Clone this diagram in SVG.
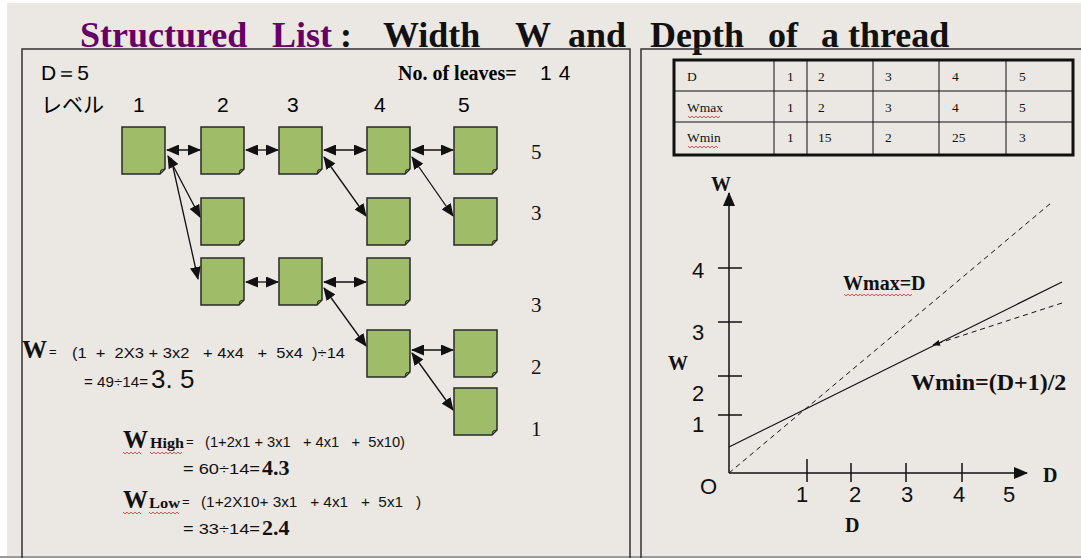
<svg xmlns="http://www.w3.org/2000/svg" xmlns:xlink="http://www.w3.org/1999/xlink" width="1081" height="558" viewBox="0 0 1081 558">
<style>
.serif{font-family:"Liberation Serif","Times New Roman",serif;}
.sans{font-family:"Liberation Sans",Arial,sans-serif;}
.jp{font-family:"Liberation Sans","Noto Sans CJK JP",sans-serif;}
.b{font-weight:bold;}
.doc{fill:#9FBC68;stroke:#2a2a2a;stroke-width:1.5;}
.fold{fill:#7a8f52;stroke:#2a2a2a;stroke-width:1;}
.con{stroke:#111;stroke-width:1.3;fill:none;}
.panel{fill:none;stroke:#333;stroke-width:1.5;}
.grid{stroke:#111;stroke-width:1;}
.tt{font-family:"Liberation Serif","Times New Roman",serif;font-size:13.5px;fill:#111;}
.wav{fill:none;stroke:#e03030;stroke-width:0.8;}
.axis{stroke:#111;stroke-width:1.5;fill:none;}
.dash{stroke:#111;stroke-width:1;stroke-dasharray:5,4;fill:none;}
</style>
<defs>
<marker id="ah" markerWidth="13" markerHeight="11" refX="12" refY="5.5" orient="auto-start-reverse" markerUnits="userSpaceOnUse">
<path d="M0,0 L13,5.5 L0,11 z" fill="#111"/>
</marker>
<marker id="ahs" markerWidth="8" markerHeight="6" refX="7" refY="3" orient="auto" markerUnits="userSpaceOnUse">
<path d="M0,0 L8,3 L0,6 z" fill="#111"/>
</marker>
<marker id="axh" markerWidth="14" markerHeight="12" refX="13" refY="6" orient="auto" markerUnits="userSpaceOnUse">
<path d="M0,0 L14,6 L0,12 z" fill="#111"/>
</marker>
<g id="d">
<path class="doc" d="M0,0 H43 V42 L38,47 H0 Z"/>
<path class="fold" d="M43,42 L38,47 L39,43 Z"/>
</g>
</defs>
<rect width="1081" height="558" fill="#EBE7E3"/>
<rect width="7" height="558" fill="#ffffff"/>
<rect width="1081" height="3" fill="#ffffff"/>
<line x1="0" y1="557" x2="1081" y2="557" stroke="#9a9a9a" stroke-width="2"/>

<!-- title -->
<g id="title" class="serif b" font-size="36">
<text x="80" y="47" fill="#660066">Structured</text>
<text x="272" y="47" fill="#660066">List</text>
<text x="340" y="47" fill="#111">:</text>
<text x="383" y="47" fill="#111">Width</text>
<text x="515" y="47" fill="#111">W</text>
<text x="568" y="47" fill="#111">and</text>
<text x="650" y="47" fill="#111">Depth</text>
<text x="768" y="47" fill="#111">of</text>
<text x="821" y="47" fill="#111">a thread</text>
</g>

<!-- panels -->
<path class="panel" d="M22,558 V49 H630 V558"/>
<path class="panel" d="M641,558 V49 H1081"/>

<!-- left panel header -->
<g id="header">
<text class="sans" x="41" y="80" font-size="21">D＝5</text>
<text class="serif b" x="398" y="80" font-size="20">No. of leaves=</text>
<text class="sans" x="540" y="80" font-size="21" letter-spacing="7">14</text>
<text class="jp" x="41" y="112" font-size="21">レベル</text>
<text class="sans" x="133" y="112" font-size="21">1</text>
<text class="sans" x="217" y="112" font-size="21">2</text>
<text class="sans" x="287" y="112" font-size="21">3</text>
<text class="sans" x="374" y="112" font-size="21">4</text>
<text class="sans" x="458" y="112" font-size="21">5</text>
</g>

<!-- connectors -->
<g id="connectors">
<line class="con" x1="167" y1="150" x2="200" y2="150" marker-start="url(#ah)" marker-end="url(#ah)"/>
<line class="con" x1="246" y1="150" x2="278" y2="150" marker-start="url(#ah)" marker-end="url(#ah)"/>
<line class="con" x1="324" y1="150" x2="366" y2="150" marker-start="url(#ah)" marker-end="url(#ah)"/>
<line class="con" x1="412" y1="150" x2="453" y2="150" marker-start="url(#ah)" marker-end="url(#ah)"/>
<line class="con" x1="246" y1="282" x2="278" y2="282" marker-start="url(#ah)" marker-end="url(#ah)"/>
<line class="con" x1="324" y1="282" x2="366" y2="282" marker-start="url(#ah)" marker-end="url(#ah)"/>
<line class="con" x1="412" y1="350" x2="453" y2="350" marker-start="url(#ah)" marker-end="url(#ah)"/>
<line class="con" x1="168" y1="156" x2="200" y2="217" marker-start="url(#ah)" marker-end="url(#ah)"/>
<line class="con" x1="171" y1="158" x2="198" y2="279" marker-end="url(#ah)"/>
<line class="con" x1="324" y1="157" x2="366" y2="216" marker-start="url(#ah)" marker-end="url(#ah)"/>
<line class="con" x1="412" y1="157" x2="453" y2="216" marker-start="url(#ah)" marker-end="url(#ah)"/>
<line class="con" x1="324" y1="288" x2="366" y2="346" marker-start="url(#ah)" marker-end="url(#ah)"/>
<line class="con" x1="412" y1="353" x2="453" y2="410" marker-start="url(#ah)" marker-end="url(#ah)"/>
</g>

<!-- nodes -->
<g id="n11"><use xlink:href="#d" x="122" y="127"/></g>
<g id="n12"><use xlink:href="#d" x="201" y="127"/></g>
<g id="n13"><use xlink:href="#d" x="279" y="127"/></g>
<g id="n14"><use xlink:href="#d" x="367" y="127"/></g>
<g id="n15"><use xlink:href="#d" x="454" y="127"/></g>
<g id="n22"><use xlink:href="#d" x="201" y="198"/></g>
<g id="n24"><use xlink:href="#d" x="367" y="198"/></g>
<g id="n25"><use xlink:href="#d" x="454" y="198"/></g>
<g id="n32"><use xlink:href="#d" x="201" y="258"/></g>
<g id="n33"><use xlink:href="#d" x="279" y="258"/></g>
<g id="n34"><use xlink:href="#d" x="367" y="258"/></g>
<g id="n44"><use xlink:href="#d" x="367" y="330"/></g>
<g id="n45"><use xlink:href="#d" x="454" y="330"/></g>
<g id="n55"><use xlink:href="#d" x="454" y="388"/></g>

<!-- row counts -->
<g id="counts" class="serif" font-size="21" fill="#111">
<text x="531" y="159">5</text>
<text x="531" y="220">3</text>
<text x="531" y="312">3</text>
<text x="531" y="374">2</text>
<text x="531" y="436">1</text>
</g>

<!-- formulas -->
<g id="formulas" fill="#111">
<text class="serif b" x="22" y="358" font-size="25">W</text>
<text class="sans" x="49" y="356" font-size="13">=</text>
<text class="sans" x="72" y="358" font-size="15" textLength="273" lengthAdjust="spacingAndGlyphs" xml:space="preserve">(1  +  2X3 + 3x2   + 4x4   +  5x4  )÷14</text>
<text class="sans" x="84" y="387" font-size="14" textLength="64" lengthAdjust="spacingAndGlyphs">= 49÷14=</text>
<text class="sans" x="151" y="388" font-size="26">3. 5</text>

<text class="serif b" x="123" y="448" font-size="25">W</text>
<text class="serif b" x="150" y="448" font-size="14" textLength="34" lengthAdjust="spacingAndGlyphs">High</text>
<text class="sans" x="186" y="446" font-size="13">=</text>
<text class="sans" x="205" y="447" font-size="15" textLength="200" lengthAdjust="spacingAndGlyphs" xml:space="preserve">(1+2x1 + 3x1   + 4x1   +  5x10)</text>
<text class="sans" x="183" y="474" font-size="14" textLength="77" lengthAdjust="spacingAndGlyphs">= 60÷14=</text>
<text class="serif b" x="262" y="475" font-size="22">4.3</text>

<text class="serif b" x="123" y="508" font-size="25">W</text>
<text class="serif b" x="149" y="508" font-size="14" textLength="31" lengthAdjust="spacingAndGlyphs">Low</text>
<text class="sans" x="182" y="506" font-size="13">=</text>
<text class="sans" x="201" y="507" font-size="15" textLength="220" lengthAdjust="spacingAndGlyphs" xml:space="preserve">(1+2X10+ 3x1   + 4x1   +  5x1   )</text>
<text class="sans" x="183" y="534" font-size="14" textLength="77" lengthAdjust="spacingAndGlyphs">= 33÷14=</text>
<text class="serif b" x="262" y="535" font-size="22">2.4</text>

<path class="wav" d="M123,452 l2,2 l2,-2 l2,2 l2,-2 l2,2 l2,-2 l2,2 l2,-2 l2,2 M150,452 l2,2 l2,-2 l2,2 l2,-2 l2,2 l2,-2 l2,2 l2,-2 l2,2 l2,-2 l2,2 l2,-2 l2,2 l2,-2 l2,2 l2,-2"/>
<path class="wav" d="M123,512 l2,2 l2,-2 l2,2 l2,-2 l2,2 l2,-2 l2,2 l2,-2 l2,2 M149,512 l2,2 l2,-2 l2,2 l2,-2 l2,2 l2,-2 l2,2 l2,-2 l2,2 l2,-2 l2,2 l2,-2 l2,2 l2,-2 l2,2"/>
</g>

<!-- table -->
<g id="table">
<rect x="674" y="60" width="399" height="95" fill="none" stroke="#111" stroke-width="3"/>
<line class="grid" x1="674" y1="91" x2="1073" y2="91"/>
<line class="grid" x1="674" y1="122" x2="1073" y2="122"/>
<line class="grid" x1="774" y1="60" x2="774" y2="155"/>
<line class="grid" x1="807" y1="60" x2="807" y2="155"/>
<line class="grid" x1="873" y1="60" x2="873" y2="155"/>
<line class="grid" x1="939" y1="60" x2="939" y2="155"/>
<line class="grid" x1="1006" y1="60" x2="1006" y2="155"/>
<text class="tt" x="687" y="81">D</text>
<text class="tt" x="787" y="81">1</text>
<text class="tt" x="818" y="81">2</text>
<text class="tt" x="885" y="81">3</text>
<text class="tt" x="952" y="81">4</text>
<text class="tt" x="1019" y="81">5</text>
<text class="tt" x="687" y="112">Wmax</text>
<text class="tt" x="787" y="112">1</text>
<text class="tt" x="818" y="112">2</text>
<text class="tt" x="885" y="112">3</text>
<text class="tt" x="952" y="112">4</text>
<text class="tt" x="1019" y="112">5</text>
<text class="tt" x="687" y="142">Wmin</text>
<text class="tt" x="787" y="142">1</text>
<text class="tt" x="818" y="142">15</text>
<text class="tt" x="885" y="142">2</text>
<text class="tt" x="952" y="142">25</text>
<text class="tt" x="1019" y="142">3</text>
<path class="wav" d="M688,116 l2,2 l2,-2 l2,2 l2,-2 l2,2 l2,-2 l2,2 l2,-2 l2,2 l2,-2 l2,2 l2,-2 l2,2 l2,-2 l2,2 l2,-2"/>
<path class="wav" d="M688,146 l2,2 l2,-2 l2,2 l2,-2 l2,2 l2,-2 l2,2 l2,-2 l2,2 l2,-2 l2,2 l2,-2 l2,2 l2,-2 l2,2"/>
</g>

<!-- chart -->
<g id="chart" fill="#111">
<line class="axis" x1="729" y1="473" x2="729" y2="193" marker-end="url(#axh)"/>
<line class="axis" x1="729" y1="473" x2="1027" y2="473" marker-end="url(#axh)"/>
<line class="axis" x1="718" y1="268" x2="742" y2="268"/>
<line class="axis" x1="718" y1="322" x2="742" y2="322"/>
<line class="axis" x1="718" y1="376" x2="742" y2="376"/>
<line class="axis" x1="718" y1="415" x2="742" y2="415"/>
<line class="axis" x1="807" y1="459" x2="807" y2="482"/>
<line class="axis" x1="851" y1="463" x2="851" y2="482"/>
<line class="axis" x1="906" y1="463" x2="906" y2="482"/>
<line class="axis" x1="962" y1="463" x2="962" y2="482"/>
<text class="serif b" x="711" y="191" font-size="20">W</text>
<text class="serif b" x="668" y="370" font-size="20">W</text>
<text class="serif b" x="1043" y="482" font-size="20">D</text>
<text class="serif b" x="845" y="532" font-size="20">D</text>
<g class="sans" font-size="22">
<text x="692" y="278">4</text>
<text x="692" y="340">3</text>
<text x="692" y="401">2</text>
<text x="692" y="432">1</text>
<text x="700" y="494">O</text>
<text x="796" y="502">1</text>
<text x="849" y="502">2</text>
<text x="901" y="502">3</text>
<text x="953" y="502">4</text>
<text x="1003" y="502">5</text>
</g>
<line class="dash" x1="729" y1="473" x2="1051" y2="203"/>
<line x1="729" y1="447" x2="1062" y2="282" stroke="#111" stroke-width="1.2"/>
<line class="dash" x1="1062" y1="303" x2="933" y2="345" marker-end="url(#ahs)"/>
<text class="serif b" x="843" y="290" font-size="20">Wmax=D</text>
<path class="wav" d="M844,294 l2,2 l2,-2 l2,2 l2,-2 l2,2 l2,-2 l2,2 l2,-2 l2,2 l2,-2 l2,2 l2,-2 l2,2 l2,-2 l2,2 l2,-2 l2,2 l2,-2 l2,2 l2,-2 l2,2 l2,-2 l2,2 l2,-2 l2,2 l2,-2 l2,2 l2,-2 l2,2 l2,-2 l2,2 l2,-2 l2,2 l2,-2"/>
<text class="serif b" x="911" y="390" font-size="24">Wmin=(D+1)/2</text>
</g>
</svg>
